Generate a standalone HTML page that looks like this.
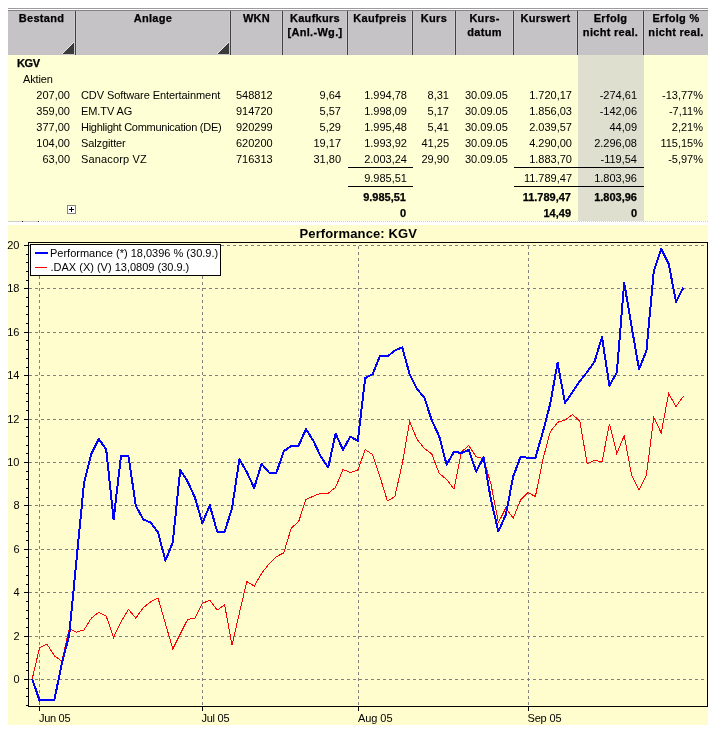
<!DOCTYPE html>
<html><head><meta charset="utf-8"><title>Performance: KGV</title>
<style>
html,body{margin:0;padding:0;background:#fff;}
body{width:713px;height:734px;position:relative;overflow:hidden;font-family:"Liberation Sans",Arial,sans-serif;font-size:11px;color:#000;}
.a{position:absolute;white-space:nowrap;line-height:13px;}
.b{font-weight:bold;-webkit-text-stroke:0.25px #000;}
.r{text-align:right;}
.c{text-align:center;}
.hd{position:absolute;top:10px;height:45px;background:#c6c3c6;}
.sep{position:absolute;top:11px;height:44px;width:1px;background:#424142;box-shadow:-1px 0 0 #cecbce,1px 0 0 #cbc8cb;}
.ln{position:absolute;height:1px;background:#000;}
</style></head><body>

<div style="position:absolute;left:8px;top:8px;width:700px;height:1px;background:#9c9a9c"></div>
<div class="hd" style="left:8px;width:700px;border-top:1px solid #848284;box-sizing:border-box"></div>
<div style="position:absolute;left:8px;top:55px;width:700px;height:166px;background:#ffffd6"></div>
<div style="position:absolute;left:578px;top:55px;width:66px;height:166px;background:#dedfce"></div>
<div class="sep" style="left:75px"></div>
<div class="a b c" style="left:8px;width:67px;top:12px;letter-spacing:0.3px">Bestand</div>
<div class="sep" style="left:230px"></div>
<div class="a b c" style="left:76px;width:154px;top:12px;letter-spacing:0.3px">Anlage</div>
<div class="sep" style="left:282px"></div>
<div class="a b c" style="left:231px;width:51px;top:12px;letter-spacing:0.3px">WKN</div>
<div class="sep" style="left:347px"></div>
<div class="a b c" style="left:283px;width:64px;top:12px;letter-spacing:0.3px">Kaufkurs</div>
<div class="a b c" style="left:283px;width:64px;top:26px;letter-spacing:0.3px">[Anl.-Wg.]</div>
<div class="sep" style="left:412px"></div>
<div class="a b c" style="left:348px;width:64px;top:12px;letter-spacing:0.3px">Kaufpreis</div>
<div class="sep" style="left:455px"></div>
<div class="a b c" style="left:413px;width:42px;top:12px;letter-spacing:0.3px">Kurs</div>
<div class="sep" style="left:513px"></div>
<div class="a b c" style="left:456px;width:57px;top:12px;letter-spacing:0.3px">Kurs-</div>
<div class="a b c" style="left:456px;width:57px;top:26px;letter-spacing:0.3px">datum</div>
<div class="sep" style="left:577px"></div>
<div class="a b c" style="left:514px;width:63px;top:12px;letter-spacing:0.3px">Kurswert</div>
<div class="sep" style="left:643px"></div>
<div class="a b c" style="left:578px;width:65px;top:12px;letter-spacing:0.3px">Erfolg</div>
<div class="a b c" style="left:578px;width:65px;top:26px;letter-spacing:0.3px">nicht real.</div>
<div class="a b c" style="left:644px;width:64px;top:12px;letter-spacing:0.3px">Erfolg %</div>
<div class="a b c" style="left:644px;width:64px;top:26px;letter-spacing:0.3px">nicht real.</div>
<svg style="position:absolute;left:62px;top:42px" width="12" height="13" shape-rendering="crispEdges"><polygon points="12,-0.2 12,12 -0.2,12" fill="#e7e7e7"/><polygon points="12,0.4 12,12 0.4,12" fill="#393c39"/></svg>
<svg style="position:absolute;left:217px;top:42px" width="12" height="13" shape-rendering="crispEdges"><polygon points="12,-0.2 12,12 -0.2,12" fill="#e7e7e7"/><polygon points="12,0.4 12,12 0.4,12" fill="#393c39"/></svg>
<div class="a b" style="left:17px;top:57px;letter-spacing:-0.4px">KGV</div>
<div class="a" style="left:23px;top:73px;letter-spacing:-0.15px">Aktien</div>
<div class="a r" style="left:-50px;width:120px;top:89px">207,00</div>
<div class="a" style="left:81px;top:89px;letter-spacing:-0.08px">CDV Software Entertainment</div>
<div class="a" style="left:236px;top:89px">548812</div>
<div class="a r" style="left:221px;width:120px;top:89px">9,64</div>
<div class="a r" style="left:287px;width:120px;top:89px">1.994,78</div>
<div class="a r" style="left:329px;width:120px;top:89px">8,31</div>
<div class="a" style="left:465px;top:89px">30.09.05</div>
<div class="a r" style="left:452px;width:120px;top:89px">1.720,17</div>
<div class="a r" style="left:517px;width:120px;top:89px">-274,61</div>
<div class="a r" style="left:583px;width:120px;top:89px">-13,77%</div>
<div class="a r" style="left:-50px;width:120px;top:105px">359,00</div>
<div class="a" style="left:81px;top:105px;letter-spacing:-0.08px">EM.TV AG</div>
<div class="a" style="left:236px;top:105px">914720</div>
<div class="a r" style="left:221px;width:120px;top:105px">5,57</div>
<div class="a r" style="left:287px;width:120px;top:105px">1.998,09</div>
<div class="a r" style="left:329px;width:120px;top:105px">5,17</div>
<div class="a" style="left:465px;top:105px">30.09.05</div>
<div class="a r" style="left:452px;width:120px;top:105px">1.856,03</div>
<div class="a r" style="left:517px;width:120px;top:105px">-142,06</div>
<div class="a r" style="left:583px;width:120px;top:105px">-7,11%</div>
<div class="a r" style="left:-50px;width:120px;top:121px">377,00</div>
<div class="a" style="left:81px;top:121px;letter-spacing:-0.27px">Highlight Communication (DE)</div>
<div class="a" style="left:236px;top:121px">920299</div>
<div class="a r" style="left:221px;width:120px;top:121px">5,29</div>
<div class="a r" style="left:287px;width:120px;top:121px">1.995,48</div>
<div class="a r" style="left:329px;width:120px;top:121px">5,41</div>
<div class="a" style="left:465px;top:121px">30.09.05</div>
<div class="a r" style="left:452px;width:120px;top:121px">2.039,57</div>
<div class="a r" style="left:517px;width:120px;top:121px">44,09</div>
<div class="a r" style="left:583px;width:120px;top:121px">2,21%</div>
<div class="a r" style="left:-50px;width:120px;top:137px">104,00</div>
<div class="a" style="left:81px;top:137px;letter-spacing:-0.12px">Salzgitter</div>
<div class="a" style="left:236px;top:137px">620200</div>
<div class="a r" style="left:221px;width:120px;top:137px">19,17</div>
<div class="a r" style="left:287px;width:120px;top:137px">1.993,92</div>
<div class="a r" style="left:329px;width:120px;top:137px">41,25</div>
<div class="a" style="left:465px;top:137px">30.09.05</div>
<div class="a r" style="left:452px;width:120px;top:137px">4.290,00</div>
<div class="a r" style="left:517px;width:120px;top:137px">2.296,08</div>
<div class="a r" style="left:583px;width:120px;top:137px">115,15%</div>
<div class="a r" style="left:-50px;width:120px;top:153px">63,00</div>
<div class="a" style="left:81px;top:153px;letter-spacing:0.15px">Sanacorp VZ</div>
<div class="a" style="left:236px;top:153px">716313</div>
<div class="a r" style="left:221px;width:120px;top:153px">31,80</div>
<div class="a r" style="left:287px;width:120px;top:153px">2.003,24</div>
<div class="a r" style="left:329px;width:120px;top:153px">29,90</div>
<div class="a" style="left:465px;top:153px">30.09.05</div>
<div class="a r" style="left:452px;width:120px;top:153px">1.883,70</div>
<div class="a r" style="left:517px;width:120px;top:153px">-119,54</div>
<div class="a r" style="left:583px;width:120px;top:153px">-5,97%</div>
<div class="ln" style="left:348px;width:65px;top:167px"></div>
<div class="ln" style="left:348px;width:65px;top:186px"></div>
<div class="ln" style="left:514px;width:130px;top:167px"></div>
<div class="ln" style="left:514px;width:130px;top:186px"></div>
<div class="a r" style="left:287px;width:120px;top:172px">9.985,51</div>
<div class="a r" style="left:452px;width:120px;top:172px">11.789,47</div>
<div class="a r" style="left:517px;width:120px;top:172px">1.803,96</div>
<div class="a b r" style="left:286px;width:120px;top:191px">9.985,51</div>
<div class="a b r" style="left:451px;width:120px;top:191px">11.789,47</div>
<div class="a b r" style="left:517px;width:120px;top:191px">1.803,96</div>
<div class="a b r" style="left:286px;width:120px;top:207px">0</div>
<div class="a b r" style="left:451px;width:120px;top:207px">14,49</div>
<div class="a b r" style="left:517px;width:120px;top:207px">0</div>
<svg style="position:absolute;left:67px;top:205px" width="9" height="9" shape-rendering="crispEdges"><rect x="0.5" y="0.5" width="8" height="8" fill="#fff" stroke="#848284"/><path d="M2 4.5H7M4.5 2V7" stroke="#000" stroke-width="1" fill="none"/></svg>
<div style="position:absolute;left:8px;top:221px;width:31px;height:1px;background:#cfcdcf"></div>
<div style="position:absolute;left:22px;top:221px;width:1px;height:1px;background:#222"></div>
<div style="position:absolute;left:38px;top:221px;width:1px;height:1px;background:#222"></div>
<div style="position:absolute;left:41px;top:221px;width:667px;height:1px;background:repeating-linear-gradient(90deg,#d0d0d0 0 1px,transparent 1px 2px)"></div>
<svg style="position:absolute;left:0;top:0" width="713" height="734" viewBox="0 0 713 734" font-family="Liberation Sans, Arial, sans-serif" font-size="11">
<rect x="8" y="225" width="700" height="500" fill="#fffdce"/>
<g shape-rendering="crispEdges">
<g stroke="#808080" stroke-width="1" stroke-dasharray="3 3" fill="none"><line x1="29" x2="707" y1="679.5" y2="679.5"/><line x1="29" x2="707" y1="636.5" y2="636.5"/><line x1="29" x2="707" y1="592.5" y2="592.5"/><line x1="29" x2="707" y1="549.5" y2="549.5"/><line x1="29" x2="707" y1="505.5" y2="505.5"/><line x1="29" x2="707" y1="462.5" y2="462.5"/><line x1="29" x2="707" y1="419.5" y2="419.5"/><line x1="29" x2="707" y1="375.5" y2="375.5"/><line x1="29" x2="707" y1="332.5" y2="332.5"/><line x1="29" x2="707" y1="288.5" y2="288.5"/><line x1="29" x2="707" y1="245.5" y2="245.5"/><line x1="39.5" x2="39.5" y1="705" y2="243" /><line x1="202.5" x2="202.5" y1="705" y2="243" /><line x1="358.5" x2="358.5" y1="705" y2="243" /><line x1="528.5" x2="528.5" y1="705" y2="243" /></g>
<rect x="28.5" y="242.5" width="679" height="464" fill="none" stroke="#000" stroke-width="1"/>
<g stroke="#000" stroke-width="1"><line x1="24" x2="28" y1="245.5" y2="245.5"/><line x1="26" x2="28" y1="254.5" y2="254.5"/><line x1="26" x2="28" y1="262.5" y2="262.5"/><line x1="26" x2="28" y1="271.5" y2="271.5"/><line x1="26" x2="28" y1="280.5" y2="280.5"/><line x1="24" x2="28" y1="288.5" y2="288.5"/><line x1="26" x2="28" y1="297.5" y2="297.5"/><line x1="26" x2="28" y1="306.5" y2="306.5"/><line x1="26" x2="28" y1="314.5" y2="314.5"/><line x1="26" x2="28" y1="323.5" y2="323.5"/><line x1="24" x2="28" y1="332.5" y2="332.5"/><line x1="26" x2="28" y1="340.5" y2="340.5"/><line x1="26" x2="28" y1="349.5" y2="349.5"/><line x1="26" x2="28" y1="358.5" y2="358.5"/><line x1="26" x2="28" y1="367.5" y2="367.5"/><line x1="24" x2="28" y1="375.5" y2="375.5"/><line x1="26" x2="28" y1="384.5" y2="384.5"/><line x1="26" x2="28" y1="393.5" y2="393.5"/><line x1="26" x2="28" y1="401.5" y2="401.5"/><line x1="26" x2="28" y1="410.5" y2="410.5"/><line x1="24" x2="28" y1="419.5" y2="419.5"/><line x1="26" x2="28" y1="427.5" y2="427.5"/><line x1="26" x2="28" y1="436.5" y2="436.5"/><line x1="26" x2="28" y1="445.5" y2="445.5"/><line x1="26" x2="28" y1="453.5" y2="453.5"/><line x1="24" x2="28" y1="462.5" y2="462.5"/><line x1="26" x2="28" y1="471.5" y2="471.5"/><line x1="26" x2="28" y1="479.5" y2="479.5"/><line x1="26" x2="28" y1="488.5" y2="488.5"/><line x1="26" x2="28" y1="497.5" y2="497.5"/><line x1="24" x2="28" y1="505.5" y2="505.5"/><line x1="26" x2="28" y1="514.5" y2="514.5"/><line x1="26" x2="28" y1="523.5" y2="523.5"/><line x1="26" x2="28" y1="531.5" y2="531.5"/><line x1="26" x2="28" y1="540.5" y2="540.5"/><line x1="24" x2="28" y1="549.5" y2="549.5"/><line x1="26" x2="28" y1="557.5" y2="557.5"/><line x1="26" x2="28" y1="566.5" y2="566.5"/><line x1="26" x2="28" y1="575.5" y2="575.5"/><line x1="26" x2="28" y1="584.5" y2="584.5"/><line x1="24" x2="28" y1="592.5" y2="592.5"/><line x1="26" x2="28" y1="601.5" y2="601.5"/><line x1="26" x2="28" y1="610.5" y2="610.5"/><line x1="26" x2="28" y1="618.5" y2="618.5"/><line x1="26" x2="28" y1="627.5" y2="627.5"/><line x1="24" x2="28" y1="636.5" y2="636.5"/><line x1="26" x2="28" y1="644.5" y2="644.5"/><line x1="26" x2="28" y1="653.5" y2="653.5"/><line x1="26" x2="28" y1="662.5" y2="662.5"/><line x1="26" x2="28" y1="670.5" y2="670.5"/><line x1="24" x2="28" y1="679.5" y2="679.5"/><line x1="26" x2="28" y1="688.5" y2="688.5"/><line x1="26" x2="28" y1="696.5" y2="696.5"/><line x1="26" x2="28" y1="705.5" y2="705.5"/><line x1="39.5" x2="39.5" y1="706" y2="711"/><line x1="202.5" x2="202.5" y1="706" y2="711"/><line x1="358.5" x2="358.5" y1="706" y2="711"/><line x1="528.5" x2="528.5" y1="706" y2="711"/></g>
<polyline points="32.2,679.0 39.6,647.6 47.0,644.2 54.4,655.8 61.8,661.3 69.2,628.9 76.6,632.2 84.0,629.9 91.4,618.1 98.8,612.2 106.2,616.1 113.6,637.3 121.0,622.0 128.4,609.3 135.8,618.1 143.2,607.7 150.6,601.9 158.0,598.0 165.4,623.5 172.8,649.0 180.2,634.0 187.6,619.5 195.0,618.1 202.4,603.2 209.8,600.3 217.2,610.1 224.6,604.8 232.0,645.0 239.4,613.0 246.8,581.6 254.2,586.1 261.6,573.4 269.0,564.0 276.4,556.7 283.8,552.8 291.2,528.2 298.6,521.7 306.0,499.3 313.4,496.2 320.8,493.2 328.2,493.2 335.6,487.3 343.0,469.5 350.4,472.4 357.8,470.1 365.2,449.6 372.6,454.5 380.0,476.9 387.4,500.9 394.8,496.6 402.2,464.2 409.6,421.5 417.0,439.3 424.4,448.5 431.8,453.9 439.2,473.5 446.6,479.4 454.0,489.2 461.4,451.9 468.8,445.5 476.2,456.8 483.6,458.8 491.0,484.3 498.4,522.6 505.8,507.9 513.2,518.3 520.6,500.0 528.0,492.6 535.4,496.5 542.8,459.8 550.2,432.0 557.6,422.3 565.0,420.1 572.4,414.5 579.8,421.0 587.2,464.0 594.6,460.1 602.0,462.1 609.4,423.8 616.8,453.6 624.2,435.7 631.6,475.2 639.0,490.3 646.4,475.2 653.8,417.2 661.2,433.0 668.6,393.5 676.0,406.5 683.4,396.3" fill="none" stroke="#ff0000" stroke-width="1"/>
<polyline points="32.2,679.0 39.6,700.6 47.0,699.6 54.4,699.6 61.8,664.0 69.2,634.8 76.6,559.0 84.0,483.0 91.4,453.6 98.8,438.8 106.2,449.6 113.6,519.3 121.0,455.9 128.4,455.9 135.8,505.6 143.2,519.3 150.6,522.5 158.0,532.1 165.4,560.6 172.8,542.3 180.2,469.9 187.6,481.4 195.0,497.7 202.4,523.3 209.8,505.2 217.2,531.7 224.6,531.7 232.0,508.5 239.4,459.1 246.8,472.2 254.2,487.9 261.6,463.8 269.0,472.6 276.4,472.6 283.8,451.2 291.2,446.1 298.6,445.7 306.0,429.0 313.4,440.9 320.8,456.6 328.2,467.4 335.6,433.7 343.0,449.8 350.4,436.6 357.8,440.9 365.2,378.1 372.6,374.2 380.0,355.9 387.4,356.5 394.8,350.6 402.2,347.3 409.6,374.2 417.0,388.9 424.4,397.7 431.8,420.5 439.2,436.2 446.6,464.7 454.0,451.9 461.4,452.9 468.8,450.0 476.2,471.6 483.6,457.4 491.0,500.0 498.4,531.5 505.8,514.8 513.2,476.5 520.6,456.8 528.0,457.8 535.4,457.8 542.8,432.3 550.2,404.0 557.6,362.8 565.0,402.9 572.4,392.3 579.8,381.3 587.2,372.0 594.6,361.5 602.0,337.2 609.4,385.8 616.8,372.6 624.2,282.7 631.6,326.5 639.0,369.0 646.4,351.0 653.8,271.3 661.2,248.7 668.6,263.5 676.0,301.8 683.4,287.6" fill="none" stroke="#0000ff" stroke-width="2" stroke-linejoin="round"/>
<rect x="30.5" y="244.5" width="190" height="31" fill="#fff" stroke="#000"/>
<rect x="35" y="252" width="13" height="2" fill="#0000ff"/>
<rect x="35" y="267" width="12" height="1" fill="#ff0000"/>
</g>
<text x="19.5" y="683" text-anchor="end">0</text>
<text x="19.5" y="640" text-anchor="end">2</text>
<text x="19.5" y="596" text-anchor="end">4</text>
<text x="19.5" y="553" text-anchor="end">6</text>
<text x="19.5" y="509" text-anchor="end">8</text>
<text x="19.5" y="466" text-anchor="end">10</text>
<text x="19.5" y="423" text-anchor="end">12</text>
<text x="19.5" y="379" text-anchor="end">14</text>
<text x="19.5" y="336" text-anchor="end">16</text>
<text x="19.5" y="292" text-anchor="end">18</text>
<text x="19.5" y="249" text-anchor="end">20</text>
<text x="39" y="722" textLength="31.5" lengthAdjust="spacing">Jun 05</text>
<text x="201.5" y="722" textLength="28" lengthAdjust="spacing">Jul 05</text>
<text x="358" y="722" textLength="34.5" lengthAdjust="spacing">Aug 05</text>
<text x="527.5" y="722" textLength="34" lengthAdjust="spacing">Sep 05</text>
<text x="50" y="257">Performance (*) 18,0396 % (30.9.)</text>
<text x="50.5" y="271">.DAX (X) (V) 13,0809 (30.9.)</text>
<text x="299.5" y="238" font-size="13" font-weight="bold" textLength="117.5" lengthAdjust="spacing">Performance: KGV</text>
</svg>
</body></html>
